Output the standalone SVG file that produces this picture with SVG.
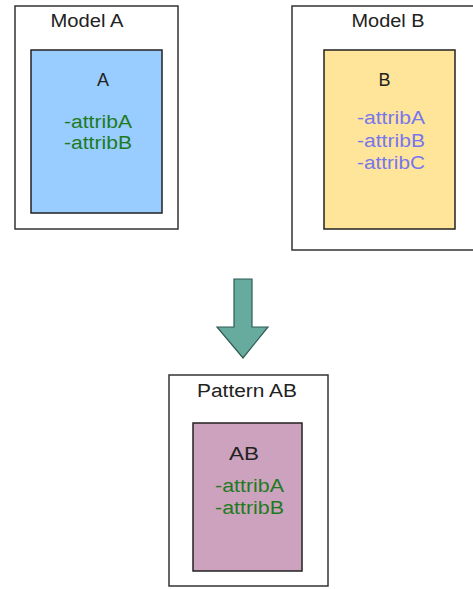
<svg xmlns="http://www.w3.org/2000/svg" width="473" height="589" viewBox="0 0 473 589">
<style>
.outer{fill:#fff;stroke:#333;stroke-width:1.5}
.inner{stroke:#222;stroke-width:1.5}
text{font-family:"Liberation Sans",Arial,sans-serif;font-size:18px;text-anchor:middle}
.t{fill:#222}
.g{fill:#1f7a1f}
.p{fill:#7777ee}
</style>
<rect width="473" height="589" fill="#fff"/>
<g id="modelA">
<rect class="outer" x="15" y="6" width="163" height="223"/>
<text class="t" x="87" y="27" textLength="73" lengthAdjust="spacingAndGlyphs">Model A</text>
</g>
<g id="A">
<rect class="inner" x="31" y="50" width="131" height="163" fill="#99ccff"/>
<text class="t" x="103" y="86">A</text>
<text class="g" x="98" y="127.5" textLength="68" lengthAdjust="spacingAndGlyphs">-attribA</text>
<text class="g" x="98" y="149" textLength="68" lengthAdjust="spacingAndGlyphs">-attribB</text>
</g>
<g id="modelB">
<rect class="outer" x="292" y="6" width="183" height="244"/>
<text class="t" x="388" y="27" textLength="73" lengthAdjust="spacingAndGlyphs">Model B</text>
</g>
<g id="B">
<rect class="inner" x="324" y="50" width="131" height="179" fill="#ffe599"/>
<text class="t" x="384.5" y="86">B</text>
<text class="p" x="391" y="124" textLength="68" lengthAdjust="spacingAndGlyphs">-attribA</text>
<text class="p" x="391" y="146.5" textLength="68" lengthAdjust="spacingAndGlyphs">-attribB</text>
<text class="p" x="391" y="169" textLength="68" lengthAdjust="spacingAndGlyphs">-attribC</text>
</g>
<g id="connectors">
<path d="M234 279 H252 V327 H268 L243 358 L217 327 H234 Z" fill="#67ab9f" stroke="#2f5b54" stroke-width="1.2"/>
</g>
<g id="patternAB">
<rect class="outer" x="169" y="375" width="159" height="211"/>
<text class="t" x="247" y="397" textLength="100" lengthAdjust="spacingAndGlyphs">Pattern AB</text>
</g>
<g id="AB">
<rect class="inner" x="193" y="423" width="109" height="148" fill="#cda2be"/>
<text class="t" x="244" y="460" textLength="30" lengthAdjust="spacingAndGlyphs">AB</text>
<text class="g" x="249.5" y="492" textLength="69" lengthAdjust="spacingAndGlyphs">-attribA</text>
<text class="g" x="249.5" y="514" textLength="69" lengthAdjust="spacingAndGlyphs">-attribB</text>
</g>
</svg>
